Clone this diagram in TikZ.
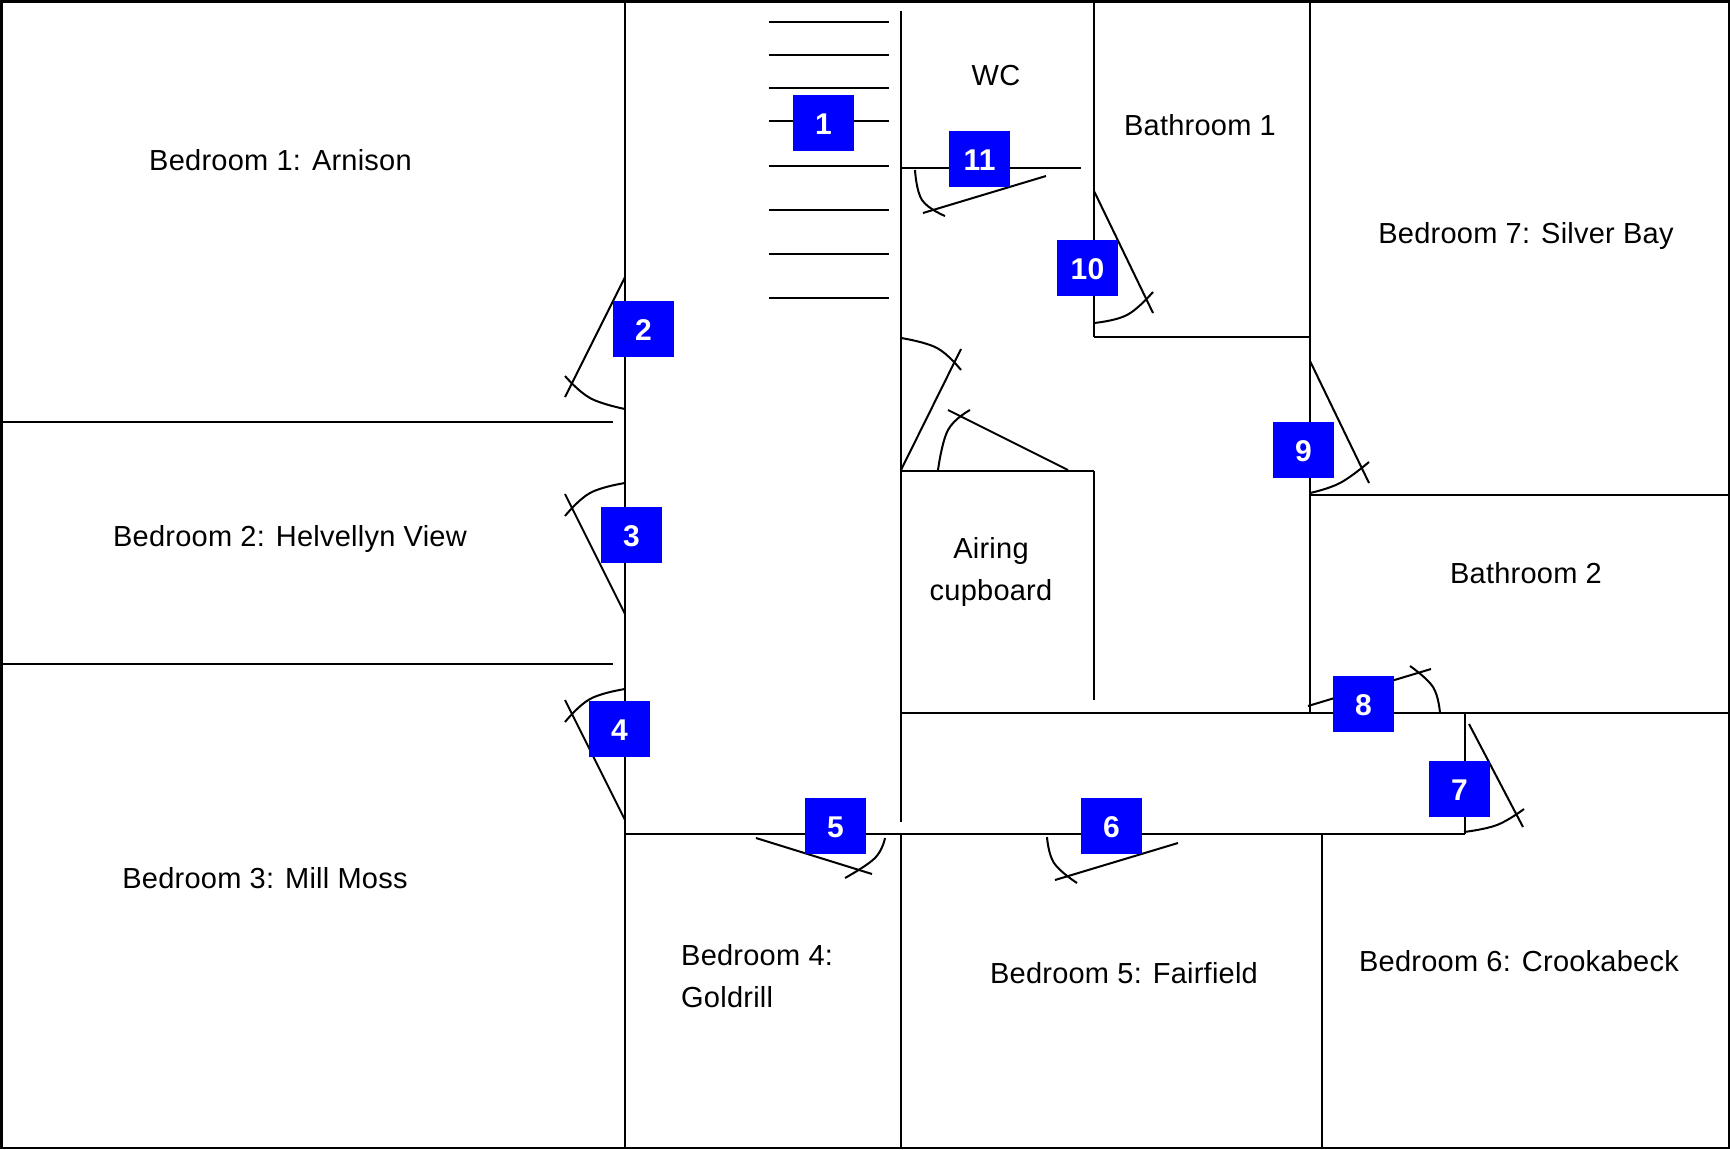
\documentclass[tikz,border=0pt]{standalone}
\usepackage{fontspec}
\setmainfont[LetterSpace=0.8]{Liberation Sans}
\tikzset{
  wall/.style={line width=2.2pt,black,line cap=butt},
  door/.style={line width=2pt,black},
  swing/.style={line width=2pt,black,smooth,tension=0.7},
  numbox/.style={fill=blue,minimum width=61pt,minimum height=56pt,inner sep=0pt,text=white,font=\fontsize{30}{30}\selectfont\bfseries},
  room/.style={anchor=base,inner sep=0pt,font=\fontsize{29}{30}\selectfont,text=black}
}
\begin{document}
\begin{tikzpicture}[x=1pt,y=-1pt]
\useasboundingbox (0,0) rectangle (1730,1149);
\fill[white] (0,0) rectangle (1730,1149);
% outer
\draw[line width=2.8pt] (1.4,1.4) rectangle (1729,1148);
% walls
\draw[wall] (625,0) -- (625,1149);
\draw[wall] (0,422) -- (613,422);
\draw[wall] (0,664) -- (613,664);
\draw[wall] (625,834) -- (1465,834);
\draw[wall] (901,11) -- (901,822);
\draw[wall] (901,834) -- (901,1149);
\draw[wall] (901,168) -- (1081,168);
\draw[wall] (1094,0) -- (1094,337);
\draw[wall] (1094,337) -- (1310,337);
\draw[wall] (1310,0) -- (1310,713);
\draw[wall] (901,713) -- (1730,713);
\draw[wall] (1310,495) -- (1730,495);
\draw[wall] (901,471) -- (1094,471);
\draw[wall] (1094,471) -- (1094,700);
\draw[wall] (1465,713) -- (1465,834);
\draw[wall] (1322,834) -- (1322,1149);
% stairs
\foreach \yy in {22,55,88,121,166,210,254,298}
  \draw[wall] (769,\yy) -- (889,\yy);
% doors
\draw[door] (625,277) -- (565,397);
\draw[swing] plot coordinates {(625,409) (590,398) (565,376)};
\draw[door] (625,614) -- (565,494);
\draw[swing] plot coordinates {(625,483) (590,493) (565,516)};
\draw[door] (625,820) -- (565,700);
\draw[swing] plot coordinates {(625,689) (590,699) (565,722)};
\draw[door] (756,838) -- (872,874);
\draw[swing] plot coordinates {(885,838) (875,858) (845,878)};
\draw[door] (1178,843) -- (1055,880);
\draw[swing] plot coordinates {(1047,837) (1054,863) (1077,883)};
\draw[door] (1469,724) -- (1523,827);
\draw[swing] plot coordinates {(1464,832) (1497,825) (1524,809)};
\draw[door] (1308,706) -- (1431,669);
\draw[swing] plot coordinates {(1440,713) (1433,687) (1410,666)};
\draw[door] (1310,361) -- (1369,483);
\draw[swing] plot coordinates {(1310,493) (1340,483) (1369,462)};
\draw[door] (1094,191) -- (1153,313);
\draw[swing] plot coordinates {(1094,323) (1127,315) (1153,292)};
\draw[door] (923,213) -- (1046,176);
\draw[swing] plot coordinates {(915,170) (922,200) (945,216)};
\draw[door] (901,470) -- (961,349);
\draw[swing] plot coordinates {(901,338) (937,348) (961,370)};
\draw[door] (1068,470) -- (948,410);
\draw[swing] plot coordinates {(938,470) (948,430) (970,410)};
% number boxes
\node[numbox,text height=22pt,text depth=0pt] (n1) at (823.5,123) {1};
\node[numbox,text height=22pt,text depth=0pt] (n2) at (643.5,329) {2};
\node[numbox,text height=22pt,text depth=0pt] (n3) at (631.5,535) {3};
\node[numbox,text height=22pt,text depth=0pt] (n4) at (619.5,729) {4};
\node[numbox,text height=22pt,text depth=0pt] (n5) at (835.5,826) {5};
\node[numbox,text height=22pt,text depth=0pt] (n6) at (1111.5,826) {6};
\node[numbox,text height=22pt,text depth=0pt] (n7) at (1459.5,789) {7};
\node[numbox,text height=22pt,text depth=0pt] (n8) at (1363.5,704) {8};
\node[numbox,text height=22pt,text depth=0pt] (n9) at (1303.5,450) {9};
\node[numbox,text height=22pt,text depth=0pt] (n10) at (1087.5,268) {10};
\node[numbox,text height=22pt,text depth=0pt] (n11) at (979.5,159) {11};
% labels
\node[room] (bed1) at (280.5,170) {Bedroom 1: Arnison};
\node[room] (bed2) at (290,546) {Bedroom 2: Helvellyn View};
\node[room] (bed3) at (265,888) {Bedroom 3: Mill Moss};
\node[room,anchor=base west] (bed4a) at (681,965) {Bedroom 4:};
\node[room,anchor=base west] (bed4b) at (681,1007) {Goldrill};
\node[room] (bed5) at (1124,983) {Bedroom 5: Fairfield};
\node[room] (bed6) at (1519,971) {Bedroom 6: Crookabeck};
\node[room] (bed7) at (1526,243) {Bedroom 7: Silver Bay};
\node[room] (bath1) at (1200,135) {Bathroom 1};
\node[room] (bath2) at (1526,583) {Bathroom 2};
\node[room] (wc) at (996,85) {WC};
\node[room] (air1) at (991,558) {Airing};
\node[room] (air2) at (991,600) {cupboard};
\end{tikzpicture}
\end{document}
